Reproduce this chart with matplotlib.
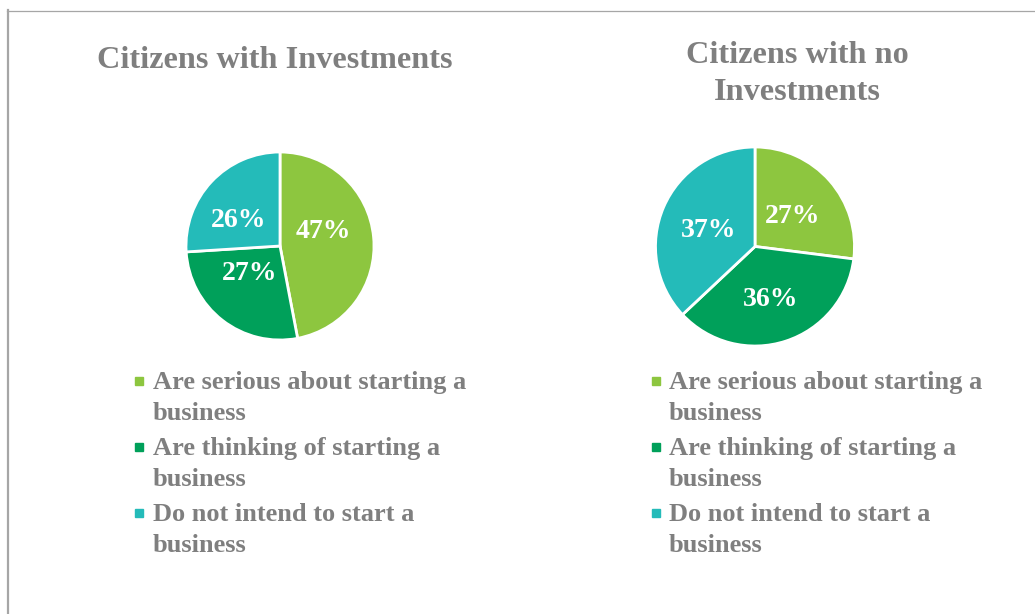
import matplotlib
matplotlib.use("Agg")
import matplotlib.pyplot as plt
from matplotlib.patches import Rectangle
from matplotlib.lines import Line2D

W, H = 1035, 614
categories = ["Are serious about starting a\nbusiness",
              "Are thinking of starting a\nbusiness",
              "Do not intend to start a\nbusiness"]
with_inv = [47, 27, 26]
no_inv = [27, 36, 37]
titles = ["Citizens with Investments", "Citizens with no\nInvestments"]
colors = ["#8DC63F", "#00A05A", "#24BBB9"]
gray = "#7F7F7F"
font = "Liberation Serif"

fig = plt.figure(figsize=(W / 100, H / 100), dpi=100)

def px(x, y):
    return x / W, 1 - y / H

def add_pie(cx, cy, r, vals, nudges):
    ax = fig.add_axes([(cx - r) / W, 1 - (cy + r) / H, 2 * r / W, 2 * r / H])
    wedges, texts, autotexts = ax.pie(
        vals, colors=colors, startangle=90, counterclock=False,
        autopct=lambda p: f"{p:.0f}%", pctdistance=0.52, radius=1,
        wedgeprops=dict(edgecolor="white", linewidth=2.0),
        textprops=dict(color="white", fontsize=20, fontweight="bold", family=font))
    for t, (dx, dy) in zip(autotexts, nudges):
        x, y = t.get_position()
        t.set_position((x + dx, y + dy - 0.035))
    ax.set_xlim(-1, 1)
    ax.set_ylim(-1, 1)
    ax.set_aspect("equal")
    ax.axis("off")
    return ax

add_pie(280, 246, 94, with_inv, [(-0.06, 0.14), (0.0, 0.15), (-0.06, -0.05)])
add_pie(755, 246.5, 99.5, no_inv, [(-0.01, -0.01), (0.0, 0.0), (0.01, -0.01)])

# titles
fig.text(*px(275, 60), titles[0], ha="center", va="center", fontsize=23.2,
         fontweight="bold", color=gray, family=font)
fig.text(*px(797, 74), titles[1], ha="center", va="center", fontsize=23.2,
         fontweight="bold", color=gray, family=font, linespacing=1.33)

# legends
def add_legend(mx, tx, y0):
    for i, (lab, c) in enumerate(zip(categories, colors)):
        yc = y0 + i * 66
        fig.patches.append(Rectangle(px(mx - 4, yc + 4), 8 / W, 8 / H,
                                     transform=fig.transFigure, color=c))
        fig.text(*px(tx, yc + 17), lab, ha="left", va="center", fontsize=19,
                 fontweight="bold", color=gray, family=font, linespacing=1.4)

add_legend(139, 153, 381)
add_legend(656, 669, 381)

# frame lines
lc = "#A6A6A6"
fig.lines.append(Line2D([7 / W, 1], [1 - 10.5 / H] * 2, transform=fig.transFigure,
                        color=lc, linewidth=0.9))
fig.lines.append(Line2D([8 / W] * 2, [1 - 10 / H, 0], transform=fig.transFigure,
                        color=lc, linewidth=1.6))

fig.savefig("out.png", dpi=100)
